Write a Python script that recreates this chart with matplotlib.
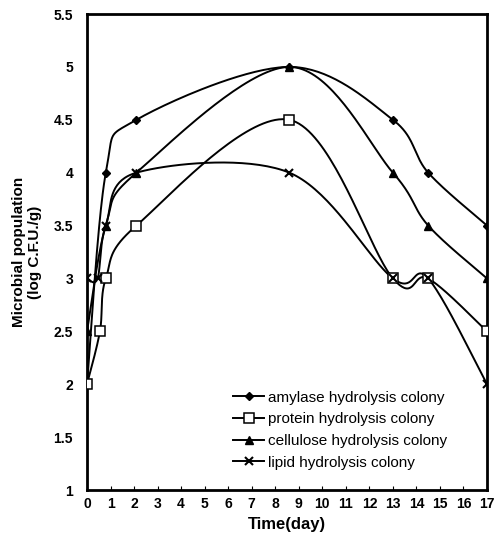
import numpy as np
import matplotlib
matplotlib.use("Agg")
import matplotlib.pyplot as plt

plt.rcParams['font.family'] = ['Liberation Sans', 'DejaVu Sans']

# data
amylase_x = [0, 0.8, 2.1, 8.6, 13, 14.5, 17]
amylase_y = [2, 4, 4.5, 5, 4.5, 4, 3.5]
protein_x = [0, 0.55, 0.8, 2.1, 8.6, 13, 14.5, 17]
protein_y = [2, 2.5, 3, 3.5, 4.5, 3, 3, 2.5]
cellulose_x = [0, 0.8, 2.1, 8.6, 13, 14.5, 17]
cellulose_y = [2.5, 3.5, 4, 5, 4, 3.5, 3]
lipid_x = [0, 0.45, 0.8, 2.1, 8.6, 13, 14.5, 17]
lipid_y = [3, 3, 3.5, 4, 4, 3, 3, 2]
labels = ['amylase hydrolysis colony', 'protein hydrolysis colony',
          'cellulose hydrolysis colony', 'lipid hydrolysis colony']


def smooth(x, y, n=40):
    # spreadsheet-style smoothed line (Catmull-Rom bezier)
    p = np.column_stack([x, y]).astype(float)
    p = np.vstack([p[0], p, p[-1]])
    out = []
    t = np.linspace(0, 1, n)[:, None]
    for i in range(1, len(p) - 2):
        a, d = p[i], p[i + 1]
        b = a + (p[i + 1] - p[i - 1]) / 6
        c = d - (p[i + 2] - p[i]) / 6
        seg = (1 - t) ** 3 * a + 3 * (1 - t) ** 2 * t * b + 3 * (1 - t) * t ** 2 * c + t ** 3 * d
        out.append(seg)
    out = np.vstack(out)
    return out[:, 0], out[:, 1]


fig = plt.figure(figsize=(4.96, 5.35), dpi=100)
ax = fig.add_axes([0.1754, 0.0841, 0.8065, 0.8897])

series = [
    (amylase_x, amylase_y, dict(marker='D', ms=4.5, mfc='black', mec='black')),
    (protein_x, protein_y, dict(marker='s', ms=7, mfc='white', mec='black', mew=1.1)),
    (cellulose_x, cellulose_y, dict(marker='^', ms=6, mfc='black', mec='black')),
    (lipid_x, lipid_y, dict(marker='x', ms=6, mec='black', mew=1.5)),
]
handles = []
for (sx, sy, style), lab in zip(series, labels):
    xs, ys = smooth(sx, sy)
    ax.plot(xs, ys, color='black', lw=1.4, zorder=2)
    ax.plot(sx, sy, ls='none', zorder=3, **style)
    h, = ax.plot([], [], color='black', lw=1.4, label=lab, **style)
    handles.append(h)

ax.set_xlim(0, 17)
ax.set_ylim(1, 5.5)
ax.set_xticks(range(0, 18))
ax.set_yticks([1, 1.5, 2, 2.5, 3, 3.5, 4, 4.5, 5, 5.5])
ax.set_yticklabels(['1', '1.5', '2', '2.5', '3', '3.5', '4', '4.5', '5', '5.5'])
ax.tick_params(axis='x', direction='in', length=3, width=0.8, labelsize=10, pad=5)
ax.tick_params(axis='y', length=0, labelsize=10, pad=10)
for lbl in ax.get_xticklabels() + ax.get_yticklabels():
    lbl.set_fontweight('bold')
for s in ax.spines.values():
    s.set_linewidth(2)

ax.set_xlabel('Time(day)', fontsize=12, fontweight='bold', labelpad=4)
ax.set_ylabel('Microbial population\n(log C.F.U./g)', fontsize=11, fontweight='bold', labelpad=8)

ax.legend(handles=handles, loc='lower right', bbox_to_anchor=(0.915, 0.03), frameon=False,
          fontsize=11, handlelength=2.0, labelspacing=0.5, handletextpad=0.25,
          borderaxespad=0)

fig.savefig('out.png', dpi=100)
